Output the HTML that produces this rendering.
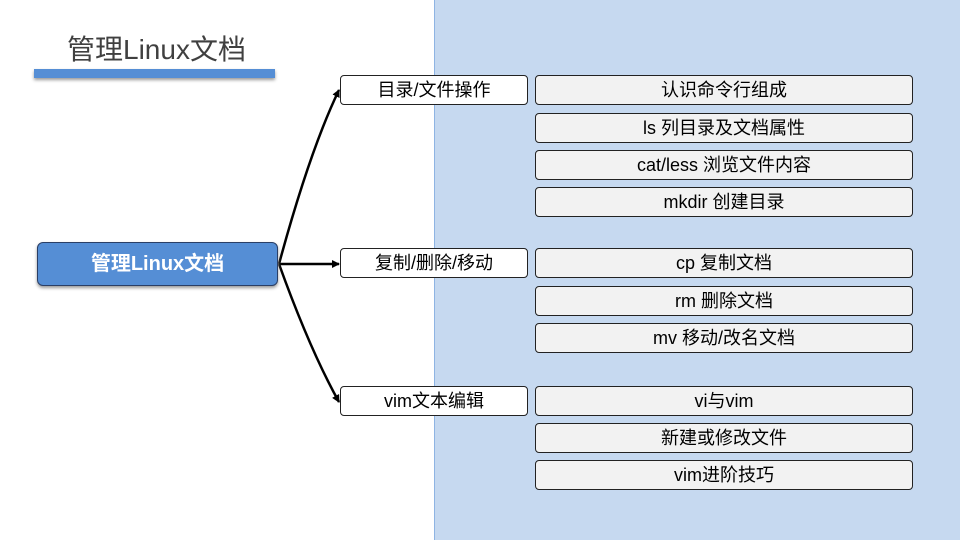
<!DOCTYPE html>
<html><head><meta charset="utf-8"><style>
body{margin:0;width:960px;height:540px;position:relative;background:#fff;overflow:hidden;font-family:"Liberation Sans","Noto Sans CJK SC",sans-serif}
.panel{position:absolute;left:434px;top:0;width:526px;height:540px;background:#c6d9f0;border-left:1px solid #8eb4e3;box-sizing:border-box}
.b{position:absolute;box-sizing:border-box;border:1px solid #222;border-radius:4px;height:30px;line-height:28px;text-align:center;font-size:18px;color:#000}
.l{left:340px;width:188px;background:#fff}
.r{left:535px;width:378px;background:#f2f2f2}
.title{position:absolute;left:67px;top:28px;font-size:28px;color:#404040}
.bar{position:absolute;left:34px;top:69px;width:241px;height:9px;background:#558ed5;box-shadow:0 2px 3px #999}
.main{position:absolute;left:37px;top:242px;width:241px;height:44px;background:#558ed5;border:1px solid #2a3f66;border-radius:6px;box-sizing:border-box;color:#fff;font-weight:bold;font-size:20px;text-align:center;line-height:42px;box-shadow:0 2px 3px #999}
</style></head><body>
<div class="panel"></div>
<div class="title">管理Linux文档</div>
<div class="bar"></div>
<svg style="position:absolute;left:0;top:0" width="960" height="540">
<defs><marker id="a" markerWidth="8" markerHeight="8" refX="7" refY="4" orient="auto" markerUnits="userSpaceOnUse"><path d="M0,0L8,4L0,8z" fill="#000"/></marker></defs>
<g stroke="#000" stroke-width="2.5" fill="none">
<path d="M279,264 Q310,150 339,90" marker-end="url(#a)"/>
<path d="M279,264 L339,264" marker-end="url(#a)"/>
<path d="M279,264 Q310,350 339,402" marker-end="url(#a)"/>
</g></svg>
<div class="main">管理Linux文档</div>
<div class="b l" style="top:75px">目录/文件操作</div>
<div class="b l" style="top:248px">复制/删除/移动</div>
<div class="b l" style="top:386px">vim文本编辑</div>
<div class="b r" style="top:75px">认识命令行组成</div>
<div class="b r" style="top:113px">ls 列目录及文档属性</div>
<div class="b r" style="top:150px">cat/less 浏览文件内容</div>
<div class="b r" style="top:187px">mkdir 创建目录</div>
<div class="b r" style="top:248px">cp 复制文档</div>
<div class="b r" style="top:286px">rm 删除文档</div>
<div class="b r" style="top:323px">mv 移动/改名文档</div>
<div class="b r" style="top:386px">vi与vim</div>
<div class="b r" style="top:423px">新建或修改文件</div>
<div class="b r" style="top:460px">vim进阶技巧</div>
</body></html>
